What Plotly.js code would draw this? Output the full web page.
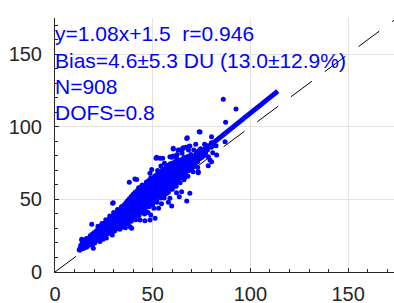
<!DOCTYPE html>
<html>
<head>
<meta charset="utf-8">
<script src="https://cdn.plot.ly/plotly-3.0.1.min.js"></script>
<style>
html,body{margin:0;padding:0;background:#fff;overflow:hidden;}
#wrap{width:394px;height:303px;overflow:hidden;}
</style>
</head>
<body>
<div id="wrap"><div id="chart"></div></div>
<script>
// Scatter points (representative subset of the N=908 retrievals)
// Outer / scattered points
const ptsX = [
12.4,12.8,13.2,13.7,13.7,14,14.5,15,15.3,15.8,16,16.5,17,17.2,17.8,18,18.5,18.8,19,19.3,19.6,19.6,20,20.3,
20.8,21,21.5,21.8,22,22.3,22.8,23,23.3,23.7,24,24.2,24.6,25,25.3,25.5,25.8,26,26.3,26.7,27,27.2,27.6,28,28.1,28.3,28.7,29,29.3,29.5,29.8,29.8,30,30.3,
30.6,31,31.2,31.5,31.8,32,32.3,32.6,33,33.2,33.5,33.8,34,34.3,34.6,35,35.2,35.5,35.8,36,36.3,36.6,37,37.2,37.5,37.8,38,38,38.2,38.4,38.6,38.8,39,39.2,39.5,39.8,
40,40.3,40.6,40.9,41,41.3,41.6,41.8,42,42.3,42.6,42.8,43,43.3,43.5,43.8,44,44.3,44.6,45,45.2,45.5,45.8,46,46.2,46.5,46.8,47,47.3,47.6,48,48.3,48.6,48.6,48.8,49,49,49.3,49.5,49.8,
50,50.3,50.6,50.8,51,51.2,51.5,51.7,52,52,52.2,52.5,52.8,53,53.3,53.7,53.7,54,54.2,54.5,54.8,55,55.1,55.4,55.5,55.8,56,56.3,56.6,57,57.3,57.6,58,58.3,58.8,58.8,58.8,59,59.3,59.7,59.7,60,
60.5,60.5,60.8,61,61.3,61.9,62,62.2,62.2,62.5,63,63,63.3,63.6,64,64.3,64.8,65,65.3,65.5,65.6,66,66.3,66.5,67,67.4,67.4,67.7,67.7,68,68.2,68.5,69,69,69.5,70,70.7,
71,71.5,72,72.5,73,73.3,73.8,74.2,74.5,75,75.9,76.5,77,78.4,79.3,80.1,80.1,80.7,82.4,87,86.1,87.3,92.6,
60.5,64,68.3,81,82.7,78.4,73.3
];
const ptsY = [
15.2,16.3,18.5,22,22.5,17,19,16.5,20.5,18,22,17.5,20,23,19,21.5,24,32.9,18.5,22.5,16.3,22,25,20,
23,27,21.5,25,29,23,26.5,21,28,24.5,31,27,22.5,29,33.5,25,27.5,31,23.5,29,34,26.5,31.5,28,27.8,36,30,33,25.5,47.3,47.7,38,31,35,
28.5,40,33,37,30,35,42,32,38,29.5,36,44,33,40,31,37.5,46,34.5,42,30.5,39,48,36,43,33,41,61.8,46,37.5,31.2,50,44,35,30.1,41,52,
38,47,43,64,55,36,49,63.8,41,53,45,58,39,50,35.8,47,56,42,60,48.5,44,53,40,35.3,57,50,62,45,54,41,59,48,68,35.8,52,39.3,65,56,70.7,46,
61,50,43.9,58,66,37,54,78.3,62,79,48,70,57,44,65,78.3,52,60,73,47,56,68,78.3,69.1,62,51,75,58,65,54,71,61,48,67,79.4,50.8,69.8,57,74,45.5,79,63,
85.2,79.9,70,59,76,74.9,66,54.6,78.7,81,62,84,72,51.9,77,68,55.3,82,84.7,73,85.6,79,65,73.7,86,48.9,92,79.4,92.5,76,86.3,70,54.2,86.8,81,75,69.1,
84,78,88,81.7,72,68.4,96.6,96.4,85,79,82.2,88,83,73.2,77.1,93.2,76,82.2,87,89.7,119.1,103.1,112.3,
84.7,84,84,87.5,80.6,79.4,69
];
// Dense core of the cloud
const coreX = [
14,14,14,15,15,15,16,16,16,16,17,17,17,18,18,18,18,19,19,19,19,20,20,20,20,21,21,21,21,
22,22,22,22,22,23,23,23,23,24,24,24,24,24,25,25,25,25,26,26,26,26,26,27,27,27,27,
28,28,28,28,28,29,29,29,29,30,30,30,30,30,31,31,31,31,32,32,32,32,32,33,33,33,33,
34,34,34,34,34,35,35,35,35,36,36,36,36,36,37,37,37,37,37,38,38,38,38,38,39,39,39,39,39,
40,40,40,40,40,41,41,41,41,41,42,42,42,42,42,43,43,43,43,43,44,44,44,44,44,
45,45,45,45,45,45,46,46,46,46,46,47,47,47,47,47,47,48,48,48,48,48,49,49,49,49,49,49,
50,50,50,50,50,51,51,51,51,51,51,52,52,52,52,52,53,53,53,53,53,53,54,54,54,54,54,
55,55,55,55,55,55,56,56,56,56,56,57,57,57,57,57,57,58,58,58,58,58,59,59,59,59,59,59,
60,60,60,60,60,61,61,61,61,61,62,62,62,62,62,63,63,63,63,63,64,64,64,64,64,
65,65,65,65,66,66,66,66,67,67,67,67,68,68,68,69,69,69,69,70,70,70,71,71,71,72,72,72,
73,73,73,74,74,74,75,75,76,76,77,77,78,78,80,80
];
const coreY = [
16,18.5,20,17.5,19.5,21.5,17,19,21,23,18.5,20.5,22,19,21,23,25,20,22,24,26,20.5,23,25,27,22,24,26,28,
22.5,24.5,26.5,28.5,30,24,26,28,30,24,26.5,28.5,30.5,32,25.5,27.5,29.5,31.5,26,28.5,30.5,32.5,34.5,27,29.5,31.5,33.5,
28.5,30.5,32.5,34.5,37,29,31.5,33.5,35.5,30,32.5,34.5,36.5,39,31.5,33.5,35.5,37.5,32,34.5,36.5,38.5,40.5,33.5,35.5,37.5,39.5,
34,36.5,38.5,40.5,43,35.5,37.5,39.5,41.5,36,38.5,40.5,42.5,45,37,39.5,41.5,43.5,46,38,40.5,42.5,44.5,47,39,41.5,43.5,45.5,48,
40,42.5,44.5,46.5,49,41,43.5,45.5,47.5,50,42,44.5,46.5,48.5,51,43,45.5,47.5,49.5,52,44,46.5,48.5,50.5,53,
45,47.5,49.5,51.5,54,56,46,48.5,50.5,52.5,55,47,49.5,51.5,53.5,56,58,48,50.5,52.5,54.5,57,49,51.5,53.5,55.5,58,60,
50,52.5,54.5,56.5,59,51,53.5,55.5,57.5,60,62,52,54.5,56.5,58.5,61,53.5,55.5,57.5,59.5,62,64,54,56.5,58.5,60.5,63,
55.5,57.5,59.5,61.5,64,66,56,58.5,60.5,62.5,65,57.5,59.5,61.5,63.5,66,68,58,60.5,62.5,64.5,67,59.5,61.5,63.5,65.5,68,70,
60,63,65,67,69.5,61.5,64,66,68,71,62,65,67,69,72,63.5,66,68,70,73,65,67.5,69.5,72,75,
66,69,71,73.5,67,70,72.5,75,68.5,71.5,74,77,70,73,75.5,71,74,77,80,72,75.5,78,73,76.5,79.5,75,78,81,
76,79.5,83,78,81,84,79,82.5,80,84,82,85.5,84,87,86,89
];
// Upper shoulder and lower edge of the cloud
const edgeX = [
36,37,38,39,40,41,42,43,44,45,46,47,48,49,50,51,52,53,54,55,56,57,58,59,60,
39,41,43,45,47,49,51,53,55,57,59,61,63,65,
30,32,34,28,26,24,22,
30,32,34,36,38,40,42,44,46,48,50,52,54,56,58,60,62,64,66,68
];
const edgeY = [
47,49,50.5,52,53.5,54,56,57,58.5,59.5,60,61.5,63,63.5,64.5,65.5,67,68,69,70.5,71,72.5,73.5,74.5,75,
49.5,51.5,54.5,56.5,59,61,63,65.5,67.5,69.5,71.5,73,75.5,77.5,
41,43,45,38.5,36,33.5,31.5,
28,30,31.5,33.5,35.5,37,39,41,43,45,47,49,51,53,55,57,59,61.5,63.5,66
];
// Linear fit y = 1.08x + 1.5 (end points of the fitted line)
const fitX = [12, 114];
const fitY = [14.5, 124.6];
// 1:1 reference line
const oneX = [0, 175];
const oneY = [0, 175];
// Tick values / labels
const tickVals = [0, 50, 100, 150];
const tickText = ['0', '50', '100', '150'];
// Statistics text
const statLines = [
  'y=1.08x+1.5\u00a0 r=0.946',
  'Bias=4.6\u00b15.3 DU (13.0\u00b112.9%)',
  'N=908',
  'DOFS=0.8'
];
const statY = [164.6, 146, 127.6, 109.6];

const axisCommon = {
  range: [0, 175],
  tickvals: tickVals,
  ticktext: tickText,
  ticks: 'inside',
  ticklen: 4,
  tickwidth: 1,
  tickcolor: '#262626',
  showline: true,
  linecolor: '#262626',
  linewidth: 1,
  mirror: false,
  showgrid: true,
  gridcolor: '#e3e3e3',
  gridwidth: 1,
  zeroline: false,
  tickfont: {family: 'Liberation Sans, Arial, sans-serif', size: 20, color: '#262626'},
  minor: {dtick: 10, tick0: 0, ticks: 'inside', ticklen: 3, tickcolor: '#262626', showgrid: false},
  fixedrange: true
};

const marker = {color: '#0000ff', size: 5, line: {width: 0}};
const traces = [
  {x: oneX, y: oneY, mode: 'lines', line: {color: '#000', width: 1, dash: '26px,16px'}, hoverinfo: 'skip'},
  {x: ptsX, y: ptsY, mode: 'markers', marker: marker, hoverinfo: 'skip'},
  {x: coreX, y: coreY, mode: 'markers', marker: marker, hoverinfo: 'skip'},
  {x: edgeX, y: edgeY, mode: 'markers', marker: marker, hoverinfo: 'skip'},
  {x: fitX, y: fitY, mode: 'lines', line: {color: '#0000ff', width: 5}, hoverinfo: 'skip'}
];

const annotations = statLines.map((t, i) => ({
  text: t, x: 0, y: statY[i], xref: 'x', yref: 'y', xanchor: 'left', yanchor: 'middle',
  showarrow: false, xshift: -2,
  font: {family: 'Liberation Sans, Arial, sans-serif', size: 21, color: '#0000ff'}
}));

const layout = {
  width: 400, height: 303,
  margin: {l: 55, r: 3, t: 18, b: 31, pad: 0},
  paper_bgcolor: '#fff', plot_bgcolor: '#fff',
  showlegend: false,
  xaxis: Object.assign({}, axisCommon, {ticklabelstandoff: 4}),
  yaxis: Object.assign({}, axisCommon, {ticklabelstandoff: 8}),
  annotations: annotations
};

Plotly.newPlot('chart', traces, layout, {staticPlot: true, displayModeBar: false});
</script>
</body>
</html>
